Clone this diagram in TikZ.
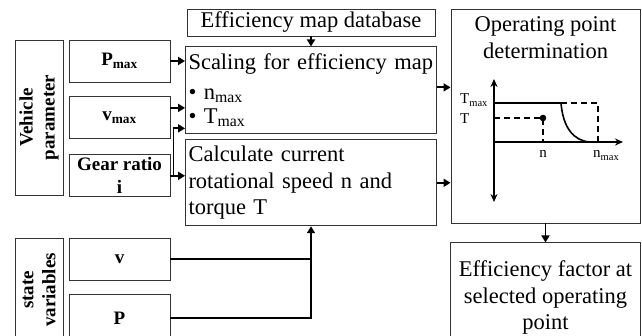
\documentclass[tikz,border=0pt]{standalone}
\usepackage{fontspec}
\setmainfont{Liberation Serif}
\usetikzlibrary{positioning,arrows.meta,calc}

\begin{document}
\begin{tikzpicture}[
  x=1pt,y=-1pt,
  node distance=14pt and 6pt,
  box/.style={draw=black!80,line width=0.9pt,inner sep=5pt,font=\fontsize{22.5}{26.5}\selectfont},
  inbox/.style={draw=black!80,line width=0.9pt,minimum width=101pt,minimum height=42pt,inner sep=2pt,align=center,font=\bfseries\fontsize{19}{23}\selectfont},
  grp/.style={draw=black!80,line width=0.9pt,rotate=90,inner sep=2pt,align=center,font=\bfseries\fontsize{19}{22}\selectfont},
  arr/.style={-{Triangle[length=7pt,width=8pt]},line width=1.8pt},
  feed/.style={line width=2.6pt},
  axis/.style={line width=1.6pt},
  lim/.style={line width=1.6pt,dash pattern=on 6pt off 4pt},
  tick/.style={font=\fontsize{15}{17}\selectfont,inner sep=0pt}
]
\useasboundingbox (0,0) rectangle (642,336);

% vehicle parameters
\node[grp,minimum width=155pt,minimum height=48pt] (vehpar) at (39,117.5) {Vehicle\\parameter};
\node[inbox] (pmax) at (119.5,61) {P\textsubscript{max}};
\node[inbox,below=of pmax] (vmax) {v\textsubscript{max}};
\node[inbox,below=15pt of vmax] (gear) {Gear ratio\\i};

% state variables
\node[grp,minimum width=104pt,minimum height=48pt] (statevar) at (39,290) {state\\variables};
\node[inbox] (vin) at (119.5,259) {v};
\node[inbox,below=of vin,minimum height=46pt] (pin) {P};

% processing
\node[box,minimum width=248pt,minimum height=27pt,inner sep=0pt] (mapdb) at (311,22.5) {Efficiency map database};
\node[box,below=10pt of mapdb,minimum width=251pt,minimum height=87pt,inner sep=2pt,text width=245pt,align=left,
      font=\fontsize{22.5}{24.5}\selectfont] (scaling)
  {Scaling for efficiency map\\[5pt] \textbullet\ n\textsubscript{max}\\ \textbullet\ T\textsubscript{max}};
\node[box,below=5pt of scaling,minimum width=251pt,minimum height=86pt,inner sep=2pt,text width=245pt,align=left] (calc)
  {Calculate current\\rotational speed n and\\torque T};

% operating point
\node[box,minimum width=189pt,minimum height=214pt] (oppoint) at (545.5,116) {};
\node[anchor=north,align=center,inner sep=0pt,font=\fontsize{22.5}{27}\selectfont] (optitle)
  at ([yshift=-8pt]oppoint.north) {Operating point\\determination};
\node[box,below=19pt of oppoint,minimum width=190pt,minimum height=110pt,align=center] (efffac)
  {Efficiency factor at\\selected operating\\point};

% n-T diagram
\draw[axis,{Stealth[length=8pt,width=7pt]}-{Stealth[length=8pt,width=7pt]}] (494,79) -- (494,202);
\draw[axis,-{Stealth[length=8pt,width=7pt]}] (494,142) -- (623,142);
\draw[axis] (494,103) -- (561,103) .. controls (563,128) and (574,141) .. (590,142);
\draw[lim] (561,103) -- (598,103) -- (598,142);
\draw[lim] (494,118) -- (543,118) -- (543,142);
\fill (543,118) circle (3.3);
\node[tick,anchor=base west] (tmaxlbl) at (460,104) {T\textsubscript{max}};
\node[tick,anchor=base west] (tlbl) at (460,124) {T};
\node[tick,anchor=base] (nlbl) at (543,158) {n};
\node[tick,anchor=base west] (nmaxlbl) at (593,158) {n\textsubscript{max}};

% connections
\draw[arr] (pmax.east) -- (pmax.east -| scaling.west);
\draw[arr] ([yshift=10pt]vmax.east) -- ([yshift=10pt]vmax.east -| scaling.west);
\coordinate (gsplit) at ([xshift=3pt]gear.east);
\draw[arr] (gear.east) -- (gear.east -| calc.west);
\draw[arr] (gsplit) |- ([yshift=6pt]scaling.south west);
\draw[arr] (mapdb.south) -- (mapdb.south |- scaling.north);
\draw[arr] ([yshift=3pt]scaling.east) -- ([yshift=3pt]scaling.east -| oppoint.west);
\draw[arr] (calc.east) -- (calc.east -| oppoint.west);
\draw[feed] (vin.east) -- (vin.east -| calc.south);
\draw[arr,feed] (pin.east) -| (calc.south);
\draw[arr] (oppoint.south) -- (efffac.north);
\end{tikzpicture}
\end{document}
